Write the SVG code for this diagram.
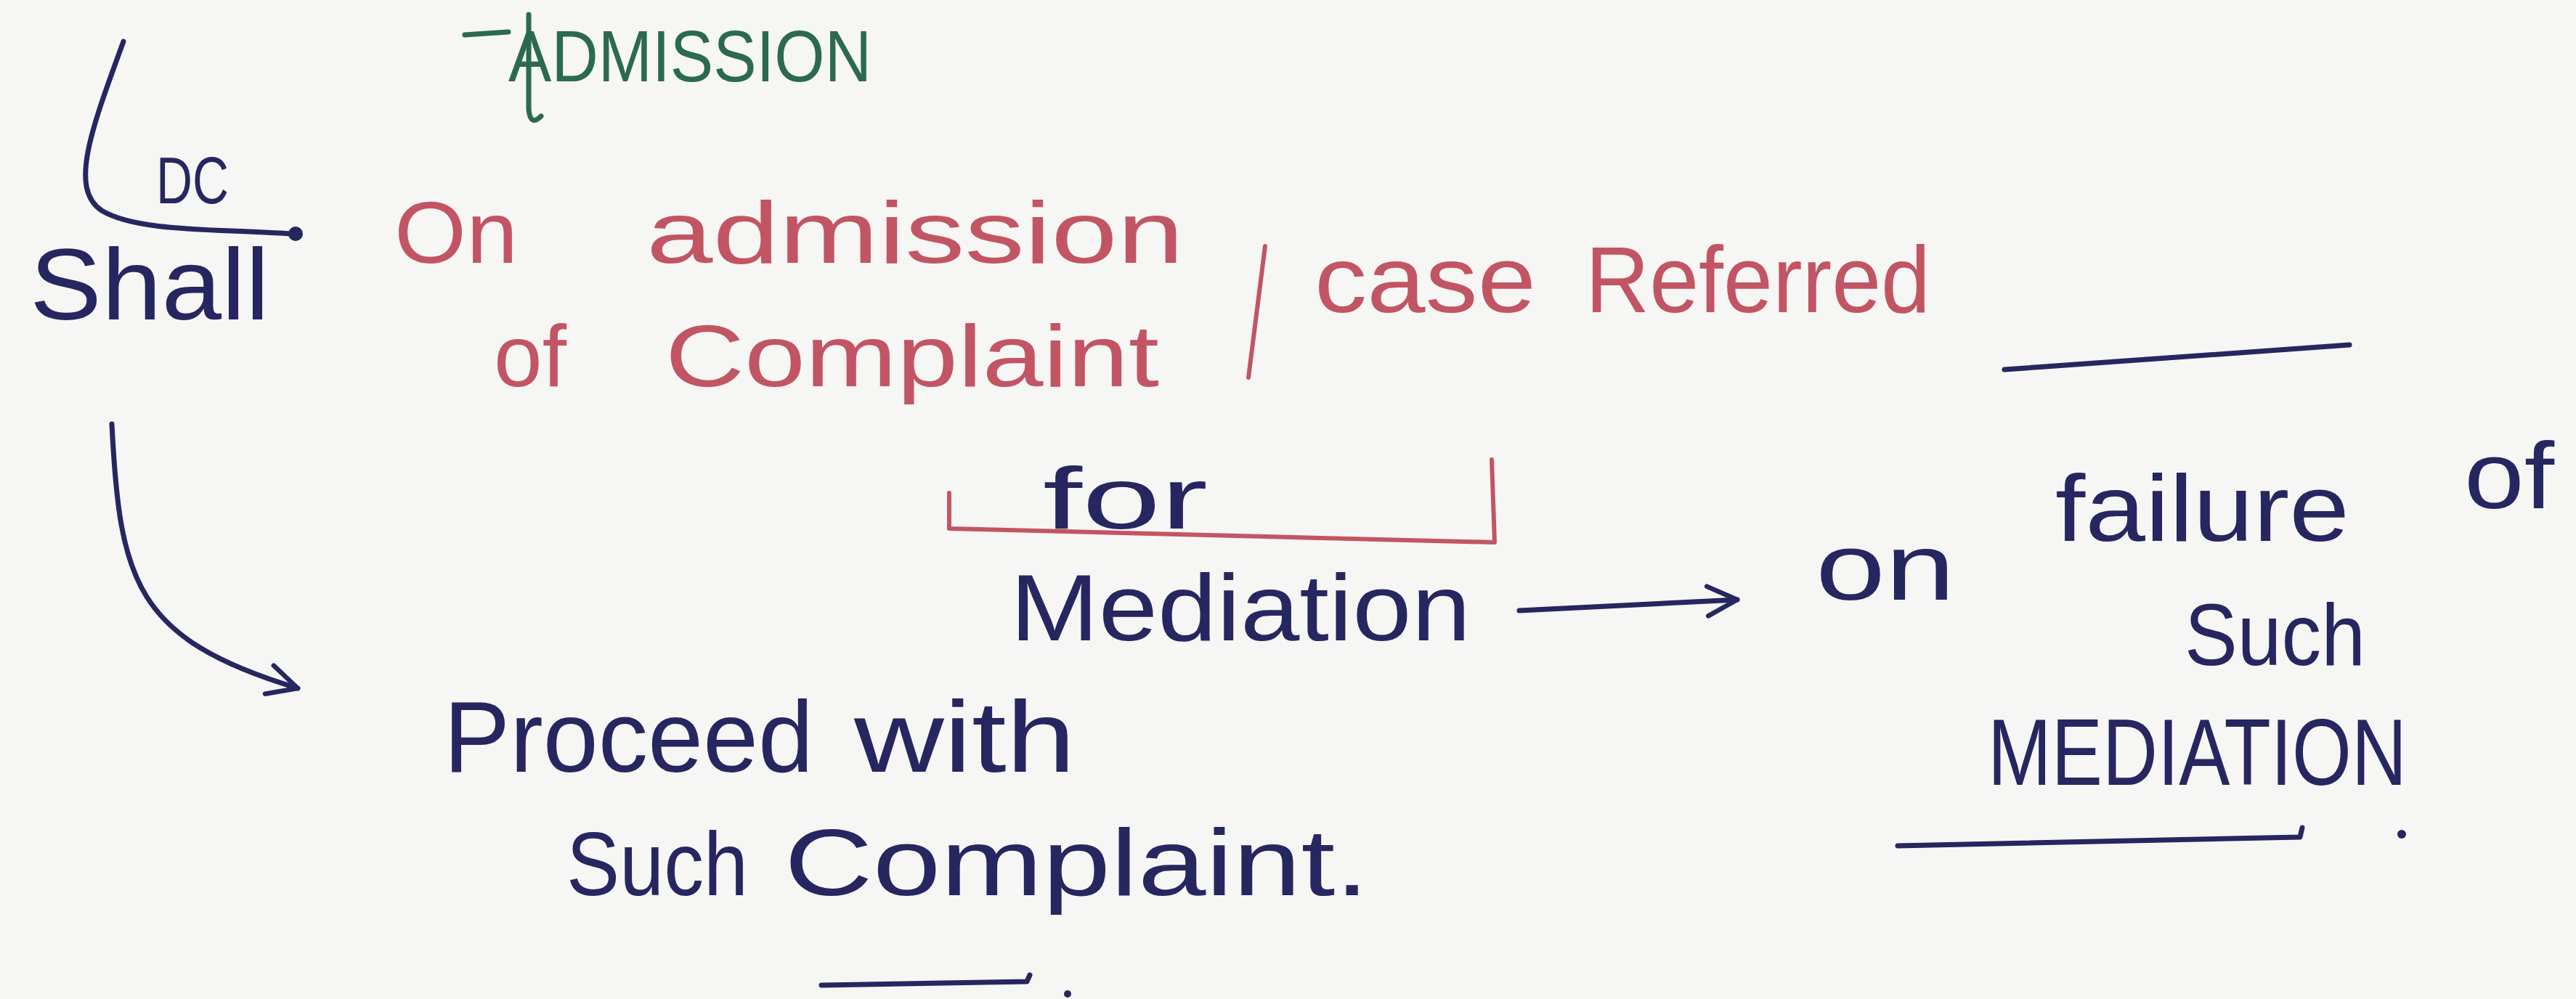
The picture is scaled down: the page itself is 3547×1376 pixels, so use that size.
<svg xmlns="http://www.w3.org/2000/svg" width="3547" height="1376" viewBox="0 0 3547 1376">
<defs>
<style>
.b{fill:#262660;font-family:"Liberation Sans",Arial,sans-serif;}
.r{fill:#c25563;font-family:"Liberation Sans",Arial,sans-serif;}
.g{fill:#2b6a4e;font-family:"Liberation Sans",Arial,sans-serif;}
.lb{fill:none;stroke:#262660;stroke-width:7;stroke-linecap:round;stroke-linejoin:round;}
.lr{fill:none;stroke:#c25563;stroke-width:6;stroke-linecap:round;stroke-linejoin:round;}
.lg{fill:none;stroke:#2b6a4e;stroke-width:7;stroke-linecap:round;}
</style>
<marker id="ah" viewBox="0 0 12 12" refX="11" refY="6" markerWidth="7" markerHeight="7" orient="auto" markerUnits="strokeWidth">
<path d="M1,1 L11,6 L1,11" fill="none" stroke="#262660" stroke-width="1.6" stroke-linecap="round" stroke-linejoin="round"/>
</marker>
</defs>
<rect width="3547" height="1376" fill="#f6f6f4"/>

<g id="admission">
<path class="lg" d="M640,48 L700,44 M728,20 L728,150 Q730,175 745,160"/>
<text class="g" x="700" y="112" font-size="100" textLength="500" lengthAdjust="spacingAndGlyphs">ADMISSION</text>
</g>

<g id="dc-shall">
<text class="b" x="215" y="280" font-size="90" textLength="100" lengthAdjust="spacingAndGlyphs">DC</text>
<text class="b" x="41" y="440" font-size="140" textLength="330" lengthAdjust="spacingAndGlyphs">Shall</text>
<circle cx="407" cy="322" r="10" fill="#262660"/>
</g>

<g id="admission-case">
<text class="r" x="543" y="362" font-size="120" textLength="170" lengthAdjust="spacingAndGlyphs">On</text>
<text class="r" x="890" y="362" font-size="120" textLength="740" lengthAdjust="spacingAndGlyphs">admission</text>
<text class="r" x="680" y="532" font-size="120" textLength="100" lengthAdjust="spacingAndGlyphs">of</text>
<text class="r" x="916" y="532" font-size="120" textLength="680" lengthAdjust="spacingAndGlyphs">Complaint</text>
<path class="lr" d="M1742,339 L1719,520"/>
<text class="r" x="1810" y="430" font-size="130" textLength="305" lengthAdjust="spacingAndGlyphs">case</text>
<text class="r" x="2183" y="430" font-size="130" textLength="475" lengthAdjust="spacingAndGlyphs">Referred</text>
</g>

<g id="for-mediation">
<path class="lr" d="M1307,679 L1307,728 L2058,747 L2054,633"/>
<text class="b" x="1436" y="728" font-size="120" textLength="227" lengthAdjust="spacingAndGlyphs">for</text>
<text class="b" x="1391" y="882" font-size="130" textLength="634" lengthAdjust="spacingAndGlyphs">Mediation</text>
</g>

<g id="failure">
<path class="lb" d="M2760,509 L3235,475"/>
<text class="b" x="2500" y="826" font-size="130" textLength="192" lengthAdjust="spacingAndGlyphs">on</text>
<text class="b" x="2830" y="745" font-size="130" textLength="405" lengthAdjust="spacingAndGlyphs">failure</text>
<text class="b" x="3393" y="700" font-size="130" textLength="124" lengthAdjust="spacingAndGlyphs">of</text>
<text class="b" x="3008" y="916" font-size="120" textLength="249" lengthAdjust="spacingAndGlyphs">Such</text>
<text class="b" x="2737" y="1081" font-size="130" textLength="577" lengthAdjust="spacingAndGlyphs">MEDIATION</text>
<path class="lb" d="M2613,1165 L3167,1153 L3170,1140"/>
<circle cx="3307" cy="1149" r="6" fill="#262660"/>
</g>

<g id="proceed">
<text class="b" x="611" y="1063" font-size="140" textLength="509" lengthAdjust="spacingAndGlyphs">Proceed</text>
<text class="b" x="1176" y="1063" font-size="140" textLength="305" lengthAdjust="spacingAndGlyphs">with</text>
<text class="b" x="780" y="1233" font-size="125" textLength="250" lengthAdjust="spacingAndGlyphs">Such</text>
<text class="b" x="1080" y="1233" font-size="130" textLength="805" lengthAdjust="spacingAndGlyphs">Complaint.</text>
<path class="lb" d="M1131,1357 L1414,1352 L1418,1343"/>
<circle cx="1470" cy="1369" r="5" fill="#262660"/>
</g>

<g id="connectors">
<path class="lb" d="M170,57 C125,180 95,260 140,290 C190,320 300,315 400,322"/>
<path class="lb" marker-end="url(#ah)" d="M154,584 C165,800 185,880 410,948"/>
<path class="lb" marker-end="url(#ah)" d="M2092,841 L2392,826"/>
</g>
</svg>
